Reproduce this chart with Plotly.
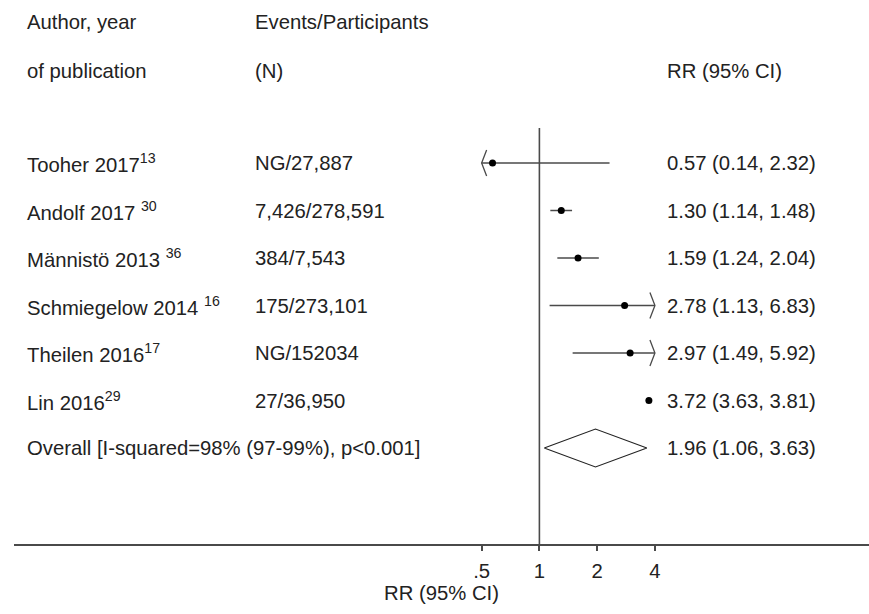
import plotly.graph_objects as go

# ---- data ----
authors = ["Tooher 2017", "Andolf 2017 ", "Männistö 2013 ", "Schmiegelow 2014 ",
           "Theilen 2016", "Lin 2016"]
refs = ["13", "30", "36", "16", "17", "29"]
events = ["NG/27,887", "7,426/278,591", "384/7,543", "175/273,101",
          "NG/152034", "27/36,950"]
rr = [0.57, 1.30, 1.59, 2.78, 2.97, 3.72]
lo = [0.14, 1.14, 1.24, 1.13, 1.49, 3.63]
hi = [2.32, 1.48, 2.04, 6.83, 5.92, 3.81]

overall_label = "Overall [I-squared=98% (97-99%), p<0.001]"
overall_rr, overall_lo, overall_hi = 1.96, 1.06, 3.63

tick_vals = [0.5, 1, 2, 4]
tick_text = [".5", "1", "2", "4"]
clip_lo, clip_hi = 0.5, 4.0

# ---- layout constants ----
W, H = 869, 614
ML, MR, MT, MB = 14, 0, 0, 70
px_per_dec = 191.9
x_one_px = 539.4
xr = [(ML - x_one_px) / px_per_dec, (W - MR - x_one_px) / px_per_dec]
row0_px, row_step = 163.0, 47.5
plot_h = H - MT - MB
yr = [(plot_h - row0_px) / row_step, (0 - row0_px) / row_step]  # reversed

def px_to_y(p):
    return (p - row0_px) / row_step

def px_to_paper(p):
    return (p - ML) / (W - ML - MR)

TXT = "#222222"
FONT = "Arial, Liberation Sans, sans-serif"
FS = 20.3
LINE = "#4a4a4a"

fig = go.Figure()

# reference line at RR = 1
fig.add_trace(go.Scatter(x=[1, 1], y=[px_to_y(128), yr[0]], mode="lines",
                         line=dict(color=LINE, width=1.6), hoverinfo="skip",
                         showlegend=False, cliponaxis=False))

ch_dx = 10 ** (5 / px_per_dec)
ch_dy = 13 / row_step
n = len(rr)
for i in range(n):
    y = i
    a = max(lo[i], clip_lo)
    b = min(hi[i], clip_hi)
    fig.add_trace(go.Scatter(x=[a, b], y=[y, y], mode="lines",
                             line=dict(color=LINE, width=1.5),
                             showlegend=False, hoverinfo="skip"))
    if lo[i] < clip_lo:
        fig.add_trace(go.Scatter(x=[a * ch_dx, a, a * ch_dx],
                                 y=[y - ch_dy, y, y + ch_dy], mode="lines",
                                 line=dict(color=LINE, width=1.3),
                                 showlegend=False, hoverinfo="skip"))
    if hi[i] > clip_hi:
        fig.add_trace(go.Scatter(x=[b / ch_dx, b, b / ch_dx],
                                 y=[y - ch_dy, y, y + ch_dy], mode="lines",
                                 line=dict(color=LINE, width=1.3),
                                 showlegend=False, hoverinfo="skip"))

fig.add_trace(go.Scatter(x=rr, y=list(range(n)), mode="markers",
                         marker=dict(color="black", size=7, symbol="circle"),
                         showlegend=False, hoverinfo="skip"))

# overall diamond
yo = n
dh = 19 / row_step
fig.add_trace(go.Scatter(x=[overall_lo, overall_rr, overall_hi, overall_rr, overall_lo],
                         y=[yo, yo - dh, yo, yo + dh, yo], mode="lines",
                         fill="toself", fillcolor="white",
                         line=dict(color="#222", width=1.1),
                         showlegend=False, hoverinfo="skip"))

ann = []
def add_text(xpx, ypx_or_y, text, data_y=False):
    ann.append(dict(x=px_to_paper(xpx), xref="paper",
                    y=ypx_or_y if data_y else px_to_y(ypx_or_y), yref="y",
                    text=text, showarrow=False, xanchor="left", yanchor="middle",
                    font=dict(family=FONT, size=FS, color=TXT)))

add_text(25, 22, "Author, year")
add_text(25, 71, "of publication")
add_text(253, 22, "Events/Participants")
add_text(253, 71, "(N)")
add_text(665, 71, "RR (95% CI)")

for i in range(n):
    add_text(25, i, f"{authors[i]}<sup>{refs[i]}</sup>", data_y=True)
    add_text(253, i, events[i], data_y=True)
    add_text(665, i, f"{rr[i]:.2f} ({lo[i]:.2f}, {hi[i]:.2f})", data_y=True)

add_text(25, n, overall_label, data_y=True)
add_text(665, n, f"{overall_rr:.2f} ({overall_lo:.2f}, {overall_hi:.2f})", data_y=True)

fig.update_layout(
    width=W, height=H,
    margin=dict(l=ML, r=MR, t=MT, b=MB, pad=0),
    paper_bgcolor="white", plot_bgcolor="white",
    annotations=ann,
    xaxis=dict(type="log", range=xr, tickvals=tick_vals, ticktext=tick_text,
               ticks="outside", ticklen=5, tickwidth=1.5, tickcolor=LINE,
               showline=True, linecolor=LINE, linewidth=1.6,
               showgrid=False, zeroline=False, ticklabelstandoff=3,
               tickfont=dict(family=FONT, size=FS, color=TXT),
               title=dict(text="RR (95% CI)", standoff=5,
                          font=dict(family=FONT, size=FS, color=TXT))),
    yaxis=dict(range=yr, showgrid=False, zeroline=False, showline=False,
               showticklabels=False, ticks=""),
)

fig.write_html("out.html")
